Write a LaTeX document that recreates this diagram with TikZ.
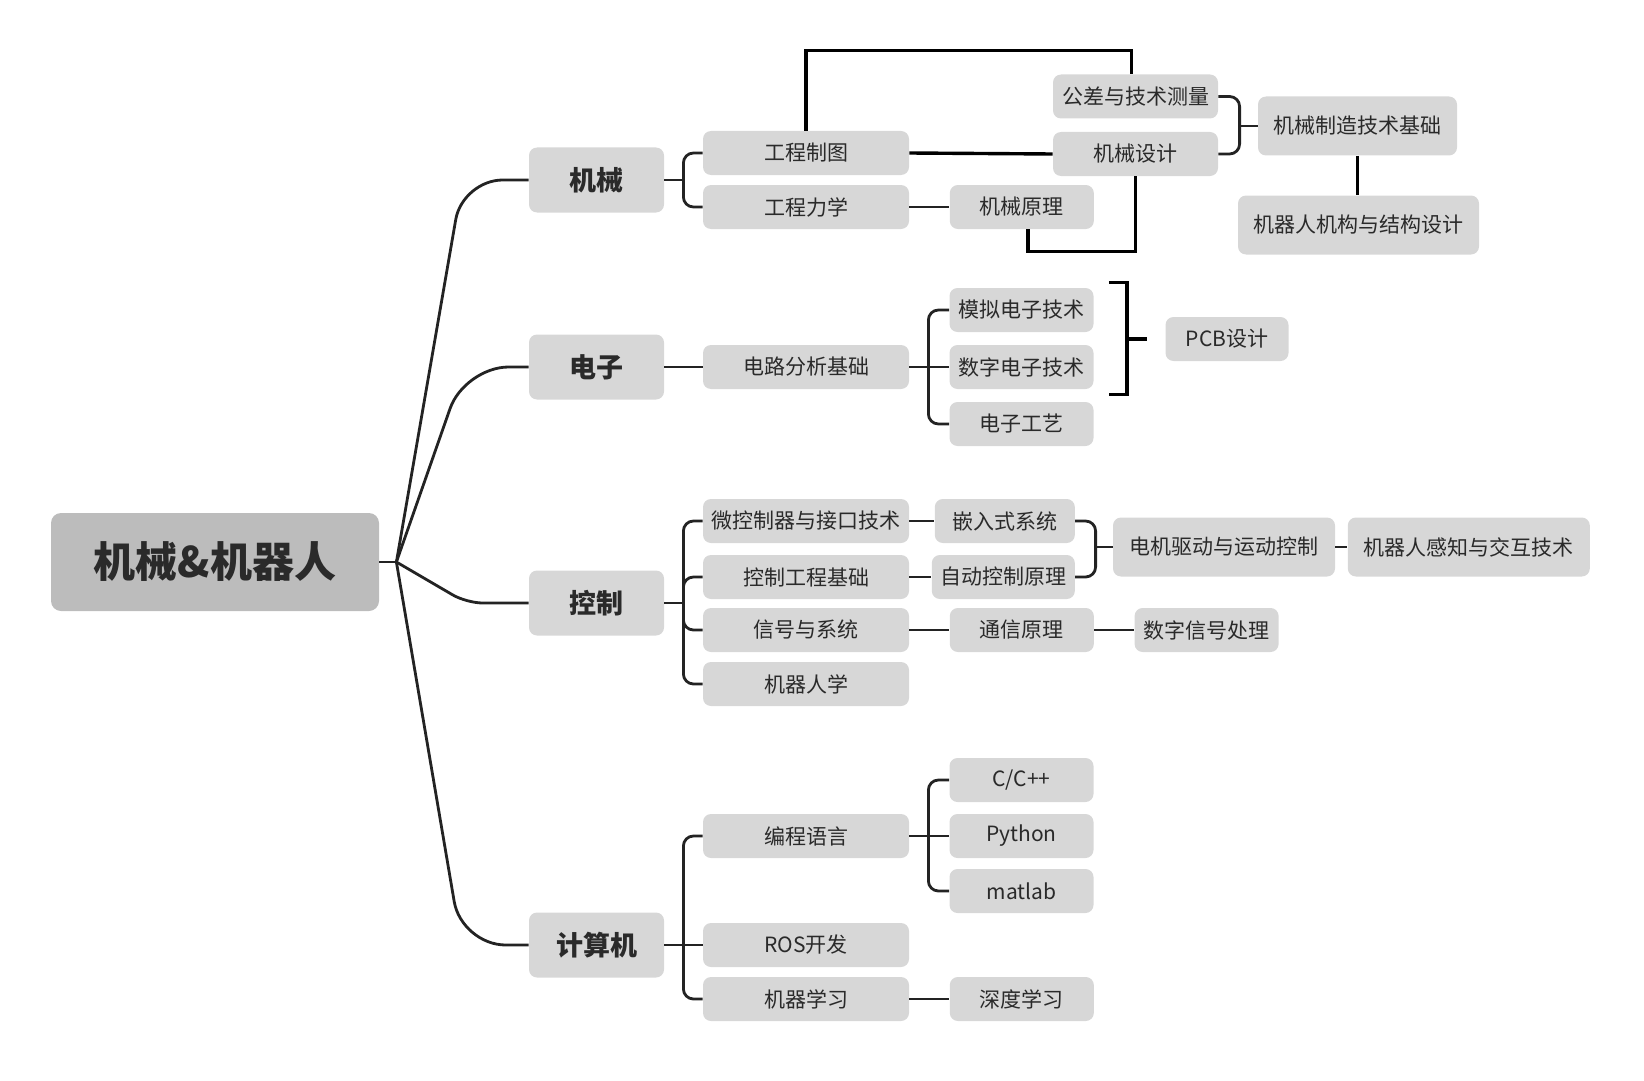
\documentclass[tikz,border=0pt]{standalone}
\usepackage{fontspec}
\setmainfont{Noto Sans CJK SC}
\usepackage{xcolor}
\definecolor{huidi}{HTML}{D7D7D7}
\definecolor{shenhui}{HTML}{BCBCBC}
\definecolor{moxian}{HTML}{232323}
\definecolor{wenzi}{HTML}{2A2A2A}
\usetikzlibrary{positioning}

\begin{document}
\begin{tikzpicture}[x=0.5pt, y=-0.5pt,
      kuang/.style={fill=huidi, rounded corners=4pt, inner sep=0pt,
                    text=wenzi, minimum height=22pt,
                    font=\fontsize{10.5pt}{12pt}\selectfont},
      genjie/.style={kuang, fill=shenhui, rounded corners=5pt,
                     minimum width=164pt, minimum height=49pt,
                     font=\fontsize{21pt}{24pt}\selectfont\bfseries},
      zhugan/.style={kuang, minimum width=67.5pt, minimum height=32.5pt,
                     font=\fontsize{13.5pt}{16pt}\selectfont\bfseries},
      erji/.style={kuang, minimum width=103pt},
      sanji/.style={kuang, minimum width=72pt},
      lianxian/.style={draw=moxian, line width=1.4pt},
      zhuanjiao/.style={lianxian, rounded corners=5pt},
      huilu/.style={draw=black, line width=1.7pt}]
    \useasboundingbox (0,0) rectangle (1644,1081);

    % root and main branches
    \node[genjie] (root) at (215,562) {机械\&机器人};
    \node[zhugan] (jixie)    at (596.5,180) {机械};
    \node[zhugan] (dianzi)   at (596.5,367) {电子};
    \node[zhugan] (kongzhi)  at (596.5,603) {控制};
    \node[zhugan] (jisuanji) at (596.5,945) {计算机};

    % second level
    \node[erji] (gczt) at (806,153) {工程制图};
    \node[erji] (gclx) at (806,207) {工程力学};
    \node[erji] (dlfx) at (806,367) {电路分析基础};
    \node[erji] (wkzq) at (806,521) {微控制器与接口技术};
    \node[erji] (kzgc) at (806,577) {控制工程基础};
    \node[erji] (xhxt) at (806,630) {信号与系统};
    \node[erji] (jqrx) at (806,684) {机器人学};
    \node[erji] (bcyy) at (806,836) {编程语言};
    \node[erji] (ros)  at (806,945) {ROS开发};
    \node[erji] (jqxx) at (806,999) {机器学习};

    % third level
    \node[sanji, right=20pt of gclx] (jxyl) {机械原理};
    \node[sanji] (moni)   at (1021.5,310) {模拟电子技术};
    \node[sanji] (shuzi)  at (1021.5,367) {数字电子技术};
    \node[sanji] (gongyi) at (1021.5,424) {电子工艺};
    \node[sanji, minimum width=70pt, right=12.5pt of wkzq] (qianru) {嵌入式系统};
    \node[sanji, minimum width=71.5pt, right=11pt of kzgc] (zdkz) {自动控制原理};
    \node[sanji, right=20pt of xhxt] (txyl) {通信原理};
    \node[sanji, right=20pt of txyl] (szxh) {数字信号处理};
    \node[sanji] (cyy)    at (1021.5,780) {C/C++};
    \node[sanji] (python) at (1021.5,836) {Python};
    \node[sanji] (matlab) at (1021.5,891) {matlab};
    \node[sanji, right=20pt of jqxx] (sdxx) {深度学习};

    % further courses
    \node[sanji, minimum width=82.5pt] (gongcha) at (1135.5,96.5) {公差与技术测量};
    \node[sanji, minimum width=82.5pt] (jxsj)    at (1135.5,154) {机械设计};
    \node[kuang, minimum width=99.5pt, minimum height=29.5pt] (zhizao) at (1357.5,126) {机械制造技术基础};
    \node[kuang, minimum width=120.5pt, minimum height=29.5pt] (jiegou) at (1358.5,225) {机器人机构与结构设计};
    \node[kuang, minimum width=61.5pt] (pcb) at (1227,339) {PCB设计};
    \node[kuang, minimum width=111pt, minimum height=29.5pt] (dianji) at (1224,547) {电机驱动与运动控制};
    \node[kuang, minimum width=121pt, minimum height=29.5pt, right=6pt of dianji] (ganzhi) {机器人感知与交互技术};

    % root to main branches
    \coordinate (hub) at ([xshift=8.5pt]root.east);
    \draw[lianxian] (root.east) -- (hub);
    \draw[lianxian, rounded corners=20pt] (hub) -- ([xshift=-33pt]jixie.west) -- (jixie.west);
    \draw[lianxian, rounded corners=22pt] (hub) -- ([xshift=-32pt]dianzi.west) -- (dianzi.west);
    \draw[lianxian, rounded corners=8pt] (hub) -- ([xshift=-31pt]kongzhi.west) -- (kongzhi.west);
    \draw[lianxian, rounded corners=22pt] (hub) -- ([xshift=-33.5pt]jisuanji.west) -- (jisuanji.west);

    % brackets
    \coordinate (jixie-j) at ([xshift=9.5pt]jixie.east);
    \draw[lianxian] (jixie.east) -- (jixie-j);
    \draw[zhuanjiao] (jixie-j) |- (gczt.west);
    \draw[zhuanjiao] (jixie-j) |- (gclx.west);

    \draw[lianxian] (dianzi.east) -- (dlfx.west);

    \coordinate (kongzhi-j) at ([xshift=9.5pt]kongzhi.east);
    \draw[lianxian] (kongzhi.east) -- (kongzhi-j);
    \draw[zhuanjiao] (kongzhi-j) |- (wkzq.west);
    \draw[zhuanjiao] (kongzhi-j) |- (kzgc.west);
    \draw[zhuanjiao] (kongzhi-j) |- (xhxt.west);
    \draw[zhuanjiao] (kongzhi-j) |- (jqrx.west);

    \coordinate (jisuanji-j) at ([xshift=9.5pt]jisuanji.east);
    \draw[lianxian] (jisuanji.east) -- (jisuanji-j);
    \draw[zhuanjiao] (jisuanji-j) |- (bcyy.west);
    \draw[lianxian] (jisuanji-j) -- (ros.west);
    \draw[zhuanjiao] (jisuanji-j) |- (jqxx.west);

    \coordinate (dlfx-j) at ([xshift=9.5pt]dlfx.east);
    \draw[lianxian] (dlfx.east) -- (dlfx-j);
    \draw[zhuanjiao] (dlfx-j) |- (moni.west);
    \draw[lianxian] (dlfx-j) -- (shuzi.west);
    \draw[zhuanjiao] (dlfx-j) |- (gongyi.west);

    \coordinate (bcyy-j) at ([xshift=9.5pt]bcyy.east);
    \draw[lianxian] (bcyy.east) -- (bcyy-j);
    \draw[zhuanjiao] (bcyy-j) |- (cyy.west);
    \draw[lianxian] (bcyy-j) -- (python.west);
    \draw[zhuanjiao] (bcyy-j) |- (matlab.west);

    % straight links
    \draw[lianxian] (gclx.east) -- (jxyl.west);
    \draw[lianxian] (wkzq.east) -- (qianru.west);
    \draw[lianxian] (kzgc.east) -- (zdkz.west);
    \draw[lianxian] (xhxt.east) -- (txyl.west);
    \draw[lianxian] (txyl.east) -- (szxh.west);
    \draw[lianxian] (jqxx.east) -- (sdxx.west);
    \draw[lianxian] (dianji.east) -- (ganzhi.west);

    % merging brackets
    \coordinate (zhizao-j) at ([xshift=-9pt]zhizao.west);
    \draw[zhuanjiao] (gongcha.east) -| (zhizao-j);
    \draw[zhuanjiao] (jxsj.east) -| (zhizao-j);
    \draw[lianxian] (zhizao-j) -- (zhizao.west);

    \coordinate (dianji-j) at ([xshift=-8.5pt]dianji.west);
    \draw[zhuanjiao] (qianru.east) -| (dianji-j);
    \draw[zhuanjiao] (zdkz.east) -| (dianji-j);
    \draw[lianxian] (dianji-j) -- (dianji.west);

    \coordinate (pcb-j) at ([xshift=-19pt]pcb.west);
    \coordinate (pcb-d) at ([xshift=-9pt]pcb.west);
    \draw[huilu] ([xshift=7.5pt,yshift=2.5pt]moni.north east) -| (pcb-j)
                 |- ([xshift=7.5pt,yshift=-2.5pt]shuzi.south east);
    \draw[huilu] (pcb-j) -- (pcb-d);

    % loops
    \draw[huilu] (gczt.north) -- ++(0,-80) -| ([xshift=-2pt]gongcha.north);
    \draw[huilu] (gczt.east) -- (jxsj.west);
    \draw[huilu] ([xshift=3pt]jxyl.south) -- ++(0,22) -| (jxsj.south);
    \draw[huilu] (zhizao.south) -- (zhizao.south |- jiegou.north);
  \end{tikzpicture}
\end{document}
